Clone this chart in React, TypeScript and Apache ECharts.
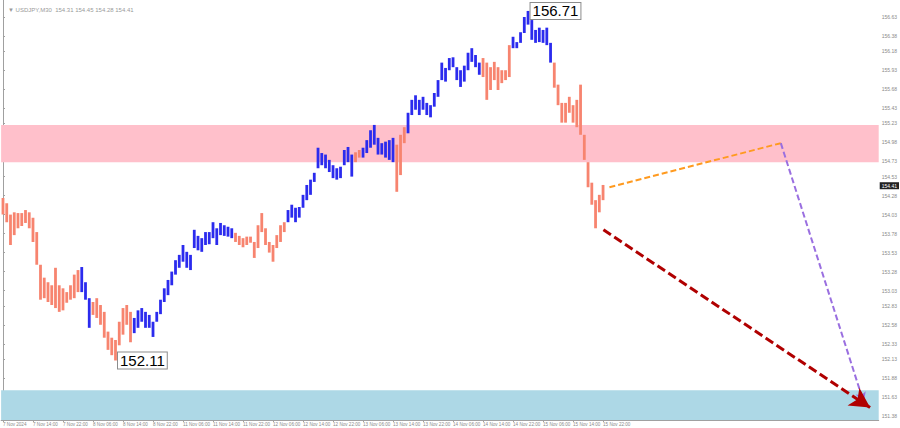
import React, { useEffect, useRef } from 'react';
import * as echarts from 'echarts';

// ---- data (USDJPY, M30 shown as hourly slots) ----
const timeLabels = [
  '7 Nov 2024', '7 Nov 14:00', '7 Nov 22:00', '8 Nov 06:00', '8 Nov 14:00', '8 Nov 22:00',
  '11 Nov 06:00', '11 Nov 14:00', '11 Nov 22:00', '12 Nov 06:00', '12 Nov 14:00', '12 Nov 22:00',
  '13 Nov 06:00', '13 Nov 14:00', '13 Nov 22:00', '14 Nov 06:00', '14 Nov 14:00', '14 Nov 22:00',
  '15 Nov 06:00', '15 Nov 14:00', '15 Nov 22:00',
];

const highs = [
  154.25, 154.18, 154.03, 154.06, 154.05, 154.05, 154.09, 154.06, 153.99, 153.80,
  153.37, 153.20, 153.14, 153.10, 153.33, 153.10, 153.06, 153.01, 153.10, 153.24,
  153.30, 153.34, 153.14, 152.93, 152.88, 152.93, 152.84, 152.75, 152.49, 152.41,
  152.38, 152.62, 152.80, 152.84, 152.75, 152.67, 152.77, 152.80, 152.75, 152.71,
  152.62, 152.75, 152.91, 153.06, 153.17, 153.28, 153.43, 153.50, 153.63, 153.54,
  153.50, 153.83, 153.75, 153.72, 153.80, 153.80, 153.93, 153.85, 153.92, 153.89,
  153.87, 153.85, 153.79, 153.75, 153.72, 153.74, 153.74, 153.67, 153.89, 154.05,
  153.85, 153.67, 153.63, 153.76, 153.89, 153.93, 154.09, 154.16, 154.12, 154.13,
  154.29, 154.42, 154.49, 154.58, 154.91, 154.84, 154.82, 154.75, 154.68, 154.64,
  154.66, 154.88, 154.92, 154.82, 154.85, 154.88, 154.91, 155.01, 155.14, 155.21,
  155.04, 154.97, 154.99, 155.01, 155.04, 154.95, 155.08, 155.18, 155.37, 155.54,
  155.60, 155.54, 155.58, 155.50, 155.47, 155.63, 155.80, 156.03, 155.96, 156.09,
  156.10, 155.97, 155.93, 155.99, 156.16, 156.22, 156.13, 156.03, 156.09, 156.03,
  155.97, 156.04, 155.97, 155.93, 155.93, 156.26, 156.37, 156.30, 156.43, 156.63,
  156.71, 156.59, 156.46, 156.49, 156.46, 156.49, 156.29, 156.03, 155.74, 155.50,
  155.50, 155.58, 155.47, 155.54, 155.74, 155.08, 154.72, 154.45, 154.22, 154.29,
  154.42,
];

const lows = [
  154.03, 153.93, 153.63, 153.76, 153.85, 153.88, 153.92, 153.85, 153.67, 153.37,
  152.91, 152.93, 152.88, 152.84, 152.80, 152.75, 152.77, 152.87, 152.91, 152.93,
  153.01, 153.01, 152.91, 152.54, 152.71, 152.67, 152.58, 152.41, 152.25, 152.18,
  152.11, 152.31, 152.45, 152.58, 152.35, 152.47, 152.54, 152.62, 152.54, 152.54,
  152.42, 152.62, 152.72, 152.88, 152.97, 153.10, 153.24, 153.33, 153.41, 153.33,
  153.30, 153.59, 153.56, 153.54, 153.63, 153.64, 153.72, 153.63, 153.76, 153.75,
  153.74, 153.72, 153.67, 153.63, 153.60, 153.63, 153.66, 153.46, 153.59, 153.80,
  153.63, 153.53, 153.41, 153.59, 153.67, 153.80, 153.93, 153.99, 153.93, 153.99,
  154.12, 154.22, 154.29, 154.46, 154.64, 154.68, 154.64, 154.59, 154.51, 154.49,
  154.51, 154.68, 154.72, 154.53, 154.72, 154.78, 154.78, 154.84, 154.91, 154.95,
  154.82, 154.82, 154.78, 154.75, 154.72, 154.33, 154.55, 154.97, 155.10, 155.34,
  155.41, 155.34, 155.41, 155.34, 155.31, 155.45, 155.58, 155.80, 155.78, 155.93,
  155.97, 155.80, 155.71, 155.78, 155.93, 156.04, 155.97, 155.87, 155.84, 155.54,
  155.67, 155.80, 155.67, 155.76, 155.80, 155.84, 156.22, 156.22, 156.29, 156.42,
  156.53, 156.33, 156.29, 156.30, 156.29, 156.26, 156.03, 155.70, 155.47, 155.24,
  155.24, 155.37, 155.24, 155.18, 155.08, 154.75, 154.39, 154.16, 153.85, 154.06,
  154.22,
];

// wave colouring: run lengths, alternating starting with a falling wave
const waveLengths = [21, 3, 11, 27, 14, 18, 2, 9, 3, 20, 8, 11, 14];
const waveDirs = ['down', 'up', 'down', 'up', 'down', 'up', 'down', 'up', 'down', 'up', 'down', 'up', 'down'];

const priceTicks = [
  156.63, 156.38, 156.18, 155.93, 155.68, 155.43, 155.23, 154.98, 154.73, 154.53, 154.28,
  154.03, 153.78, 153.53, 153.28, 153.03, 152.83, 152.58, 152.33, 152.13, 151.88, 151.63, 151.38,
];

const lastPrice = 154.41;
const peak = { index: 140, price: 156.71 };
const trough = { index: 30, price: 152.11 };
const resistanceZone = [154.72, 155.21];
const targetZone = [151.32, 151.72];
const forecastOrange = [[161.7, 154.39], [207.4, 154.97]];
const forecastPurple = [[207.4, 154.97], [229.5, 151.56]];
const forecastRed = [[160.1, 153.83], [231.2, 151.49]];

const totalSlots = 234;
const yMin = 151.327;
const yMax = 156.854;
const titleText = '\u25BC USDJPY,M30  154.31 154.45 154.28 154.41';

const DOWN_COLOR = '#f7846f';
const UP_COLOR = '#2b2bee';

export default function App() {
  const ref = useRef<HTMLDivElement>(null);

  useEffect(() => {
    if (!ref.current) return;
    const chart = echarts.init(ref.current, undefined, { renderer: 'svg' });

    const dirs: string[] = [];
    waveLengths.forEach((len, k) => {
      for (let j = 0; j < len; j++) dirs.push(waveDirs[k]);
    });
    const barData = highs.map((h, i) => [i, h, lows[i], dirs[i] === 'up' ? 1 : 0]);
    const categories = Array.from({ length: totalSlots }, (_, i) =>
      i < highs.length && i % 8 === 0 ? timeLabels[i / 8] : ''
    );
    const showIdx = (i: number) => i % 8 === 0 && i < highs.length;

    const font = 'Liberation Sans, Arial, sans-serif';

    chart.setOption({
      animation: false,
      backgroundColor: '#ffffff',
      title: {
        text: titleText,
        left: 3,
        top: 2,
        textStyle: { fontSize: 6, color: '#9a9a9a', fontWeight: 'normal', fontFamily: font },
      },
      grid: { left: 0, right: 17, top: 0, bottom: 8, containLabel: false },
      xAxis: [
        {
          type: 'category',
          data: categories,
          boundaryGap: true,
          axisLine: { show: true, lineStyle: { color: '#a0a0a0', width: 1 } },
          axisTick: { show: true, interval: (i: number) => showIdx(i), alignWithLabel: true, length: 2, lineStyle: { color: '#a0a0a0' } },
          axisLabel: {
            interval: (i: number) => showIdx(i),
            align: 'left',
            fontSize: 4.6,
            color: '#8a8a8a',
            margin: 2,
            fontFamily: font,
            hideOverlap: false,
          },
          splitLine: { show: false },
        },
        {
          type: 'value',
          min: -0.5,
          max: totalSlots - 0.5,
          show: false,
        },
      ],
      yAxis: {
        type: 'value',
        position: 'right',
        min: yMin,
        max: yMax,
        axisLine: { show: true, lineStyle: { color: '#a0a0a0', width: 1 } },
        axisTick: { show: true, customValues: priceTicks, length: 2, lineStyle: { color: '#a0a0a0' } },
        axisLabel: {
          customValues: priceTicks,
          formatter: (v: number) => v.toFixed(2),
          fontSize: 5,
          color: '#8a8a8a',
          margin: 3,
          fontFamily: font,
        },
        splitLine: { show: false },
      },
      series: [
        {
          type: 'line',
          xAxisIndex: 1,
          yAxisIndex: 0,
          data: [],
          z: 1,
          silent: true,
          markArea: {
            silent: true,
            data: [
              [
                { yAxis: resistanceZone[1], itemStyle: { color: '#ffc0cb' } },
                { yAxis: resistanceZone[0] },
              ],
              [
                { yAxis: targetZone[1], itemStyle: { color: '#add8e6' } },
                { yAxis: targetZone[0] },
              ],
            ],
          },
        },
        {
          type: 'custom',
          xAxisIndex: 0,
          yAxisIndex: 0,
          z: 2,
          encode: { x: 0, y: [1, 2] },
          data: barData,
          renderItem: (params: any, api: any) => {
            const i = api.value(0);
            const hi = api.coord([i, api.value(1)]);
            const lo = api.coord([i, api.value(2)]);
            const w = 2.8;
            return {
              type: 'rect',
              shape: { x: hi[0] - w / 2, y: hi[1], width: w, height: Math.max(1, lo[1] - hi[1]) },
              style: { fill: api.value(3) === 1 ? UP_COLOR : DOWN_COLOR },
            };
          },
        },
        {
          type: 'line',
          xAxisIndex: 1,
          yAxisIndex: 0,
          data: [],
          z: 3,
          silent: true,
          markLine: {
            silent: true,
            animation: false,
            label: { show: false },
            data: [
              [
                { coord: forecastOrange[0], symbol: 'none', lineStyle: { color: '#ff9a1f', width: 2, type: [6, 3] } },
                { coord: forecastOrange[1], symbol: 'none' },
              ],
              [
                { coord: forecastPurple[0], symbol: 'none', lineStyle: { color: '#9a6fe0', width: 2, type: [6, 3] } },
                { coord: forecastPurple[1], symbol: 'arrow', symbolSize: [8, 10] },
              ],
              [
                { coord: forecastRed[0], symbol: 'none', lineStyle: { color: '#b00000', width: 3, type: [9, 4] } },
                { coord: forecastRed[1], symbol: 'arrow', symbolSize: [16, 20] },
              ],
              {
                yAxis: lastPrice,
                symbol: 'none',
                lineStyle: { color: 'rgba(0,0,0,0)', width: 0 },
                label: {
                  show: true,
                  position: 'end',
                  distance: 1,
                  formatter: lastPrice.toFixed(2),
                  fontSize: 5,
                  color: '#ffffff',
                  backgroundColor: '#222222',
                  padding: [1, 2],
                  fontFamily: font,
                },
              },
            ],
          },
          markPoint: {
            silent: true,
            symbol: 'circle',
            symbolSize: 1,
            itemStyle: { color: 'rgba(0,0,0,0)' },
            label: {
              show: true,
              position: 'right',
              distance: 2,
              formatter: (p: any) => p.name,
              fontSize: 15,
              color: '#000000',
              backgroundColor: '#ffffff',
              borderColor: '#8c8c8c',
              borderWidth: 1,
              padding: [1, 2, 0, 2],
              fontFamily: font,
            },
            data: [
              { name: peak.price.toFixed(2), coord: [peak.index, peak.price] },
              { name: trough.price.toFixed(2), coord: [trough.index, trough.price] },
            ],
          },
        },
      ],
    });

    return () => {
      chart.dispose();
    };
  }, []);

  return (
    <div
      ref={ref}
      style={{ position: 'fixed', left: 0, top: 0, width: 900, height: 428, background: '#fff' }}
    />
  );
}
